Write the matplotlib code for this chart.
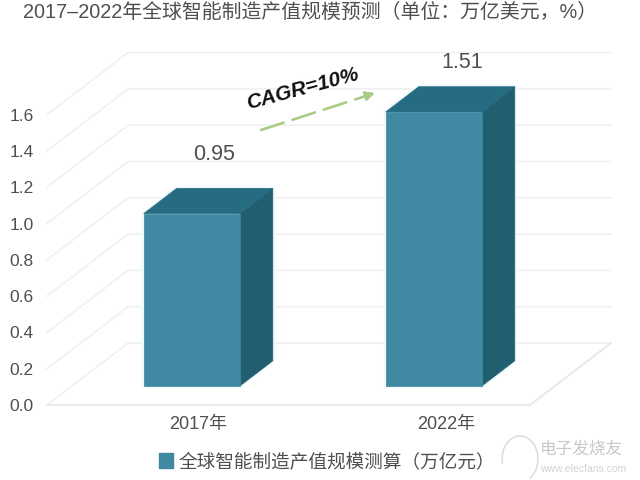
import matplotlib
matplotlib.use("Agg")
import matplotlib.pyplot as plt
from matplotlib.patches import Polygon, Patch, Arc

plt.rcParams["font.family"] = ["Liberation Sans", "Noto Sans CJK SC"]

title = "2017–2022年全球智能制造产值规模预测（单位：万亿美元，%）"
years = ["2017年", "2022年"]
values = [0.95, 1.51]
value_labels = ["0.95", "1.51"]
y_ticks = [0.0, 0.2, 0.4, 0.6, 0.8, 1.0, 1.2, 1.4, 1.6]
legend_label = "全球智能制造产值规模测算（万亿元）"

c_front = '#3f89a2'
c_top = '#256c82'
c_side = '#215f70'
c_grid = '#f0f2f2'
c_text = '#4f4f4f'
c_green = '#a9cb85'

# layout, in pixels of the 640x480 picture
PX_PER_UNIT = 181.5
FLOOR_DX = 81.
FLOOR_DY = 62./PX_PER_UNIT
bar_left = [119, 361]
bar_width = 96
near = 0.306
far = 0.713
label_x = [214, 462]
label_y = [155, 63]


def proj(x, v, d):
    # x along the front edge, v value, d depth into the chart (0..1)
    return x+d*FLOOR_DX, v+d*FLOOR_DY


def py(p):
    # pixel row to value axis
    return (405-p)/PX_PER_UNIT


fig = plt.figure(figsize=(6.4, 4.8), dpi=100)
ax = fig.add_axes([47/640., 75/480., 593/640., 405/480.])
ax.set_xlim(47, 640)
ax.set_ylim(0, 405/PX_PER_UNIT)
ax.patch.set_visible(False)
for s in ax.spines.values():
    s.set_visible(False)

# walls and floor
for v in y_ticks:
    ax.plot(*zip(proj(47, v, 0), proj(47, v, 1), proj(530, v, 1)),
            color=c_grid, lw=1.3, clip_on=False, zorder=1)
ax.plot(*zip(proj(47, 0, 0), proj(530, 0, 0), proj(530, 0, 1)),
        color='#e6e9e9', lw=1.3, clip_on=False, zorder=1)

# the bars
for x, v, lab, lx, ly in zip(bar_left, values, value_labels, label_x, label_y):
    a = proj(x, 0, near)
    b = proj(x+bar_width, 0, near)
    c = proj(x+bar_width, v, near)
    d = proj(x, v, near)
    e = proj(x+bar_width, 0, far)
    f = proj(x+bar_width, v, far)
    g = proj(x, v, far)
    # pale halo behind the block, it cuts the grid lines a little
    ax.add_patch(Polygon([a, b, e, f, g, d], fc='white', ec='#eef9fb', lw=3, zorder=2))
    ax.add_patch(Polygon([b, e, f, c], fc=c_side, ec=c_side, lw=0.5, zorder=3))
    ax.add_patch(Polygon([d, c, f, g], fc=c_top, ec=c_top, lw=0.5, zorder=3))
    ax.add_patch(Polygon([a, b, c, d], fc=c_front, ec=c_front, lw=0.5, zorder=4))
    ax.text(lx, py(ly), lab, ha='center', va='center', fontsize=15.5, color=c_text)

ax.set_yticks(y_ticks)
ax.set_yticklabels(["%.1f" % v for v in y_ticks])
ax.set_xticks([198, 446])
ax.set_xticklabels(years)
ax.tick_params(axis='y', length=0, pad=9.5, labelsize=12.5, labelcolor=c_text)
ax.tick_params(axis='x', length=0, pad=8, labelsize=13, labelcolor=c_text)

# growth arrow
ax.annotate("", xy=(375, py(93)), xytext=(261, py(130)),
            arrowprops=dict(arrowstyle='-|>', color=c_green, lw=1.9,
                            linestyle=(0, (9, 3.5)), mutation_scale=13,
                            shrinkA=0, shrinkB=0))
ax.text(303, py(89), "CAGR=10%", rotation=15, ha='center', va='center',
        fontsize=15, fontweight='bold', fontstyle='italic', color='#111111')

fig.text(23/640., 1-12/480., title, fontsize=14.3, color=c_text, ha='left', va='center')

fig.legend(handles=[Patch(color=c_front, label=legend_label)], frameon=False,
           loc='center left', bbox_to_anchor=(142/640., 1-462/480.), fontsize=13.4,
           labelcolor=c_text, handlelength=0.75, handleheight=0.9, handletextpad=0.32)

# watermark
c_wm = '#dedede'
fig.add_artist(Arc((520/640., 1-459/480.), 36/640., 46/480., theta1=-70, theta2=200,
                   color=c_wm, lw=1.2, transform=fig.transFigure))
fig.text(540/640., 1-449/480., "电子发烧友", fontsize=12, color='#c8c8c8', ha='left', va='center',
         fontstyle='italic')
fig.text(540/640., 1-469/480., "www.elecfans.com", fontsize=7.5, color='#d2d2d2', ha='left', va='center')

fig.savefig("out.png", dpi=100)
